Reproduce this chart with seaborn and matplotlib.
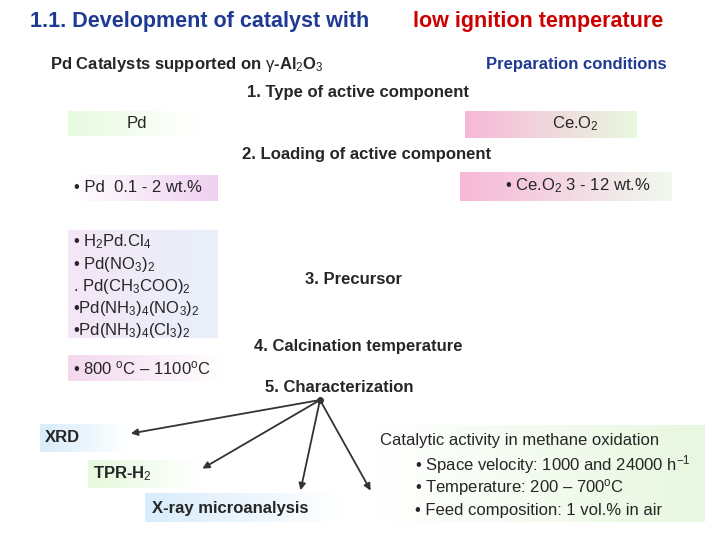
import matplotlib
matplotlib.use("Agg")
import matplotlib.pyplot as plt
import seaborn as sns
import numpy as np
from matplotlib.colors import LinearSegmentedColormap

sns.set_style("white")
plt.rcParams['font.family'] = ['Liberation Sans', 'DejaVu Sans']
plt.rcParams['mathtext.fontset'] = 'custom'
plt.rcParams['mathtext.rm'] = 'Liberation Sans'
plt.rcParams['mathtext.it'] = 'Liberation Sans'
plt.rcParams['mathtext.bf'] = 'Liberation Sans:bold'

title_parts = ["1.1. Development of catalyst with ", "low ignition temperature"]
steps = ["1. Type of active component", "2. Loading of active component", "3. Precursor",
         "4. Calcination temperature", "5. Characterization"]
precursors = ["• H$_2$Pd.Cl$_4$", "• Pd(NO$_3$)$_2$", ". Pd(CH$_3$COO)$_2$",
              "•Pd(NH$_3$)$_4$(NO$_3$)$_2$", "•Pd(NH$_3$)$_4$(Cl$_3$)$_2$"]
activity = ["Catalytic activity in methane oxidation", "• Space velocity: 1000 and 24000 h$^{-1}$",
            "• Temperature: 200 – 700$^{o}$C", "• Feed composition: 1 vol.% in air"]

FS = 12
fig = plt.figure(figsize=(7.2, 5.4), dpi=100)
ax = fig.add_axes([0, 0, 1, 1])
ax.axis("off")

def gbox(x0, y0, x1, y1, c0, c1):
    cm = LinearSegmentedColormap.from_list("g", [c0, c1])
    grad = np.linspace(0, 1, 100).reshape(1, -1)
    ax.imshow(grad, cmap=cm, extent=(x0, x1, y1, y0), aspect="auto", zorder=1)

ax.set_xlim(0, 720); ax.set_ylim(540, 0)
ax.text(30, 22, title_parts[0], fontsize=15.5, weight="bold", color="#1f3a93", va="center")
ax.text(413, 22, title_parts[1], fontsize=15.5, weight="bold", color="#cc0000", va="center")
ax.text(50, 64, "Pd Catalysts supported on $\\gamma$-Al$_2$O$_3$", fontsize=FS, weight="bold", va="center")
ax.text(486, 64, "Preparation conditions", fontsize=FS, weight="bold", color="#1f3a93", va="center")

gbox(68, 111, 200, 136, "#e8fbe0", "#ffffff")
ax.text(127, 124, "Pd", fontsize=FS, va="center")
gbox(465, 111, 637, 138, "#f7b8d8", "#e8f8e0")
ax.text(552, 124, "Ce.O$_2$", fontsize=FS, va="center")
gbox(68, 175, 218, 201, "#ffffff", "#efd0f0")
ax.text(74, 188, "• Pd  0.1 - 2 wt.%", fontsize=FS, va="center")
gbox(460, 172, 672, 201, "#f7b8d8", "#f0f8ee")
ax.text(505, 186, "• Ce.O$_2$ 3 - 12 wt.%", fontsize=FS, va="center")
gbox(68, 230, 218, 338, "#f4e6f6", "#e8f0fa")
for i, p in enumerate(precursors):
    ax.text(73, 242 + i * 22, p, fontsize=FS, va="center")
gbox(68, 355, 225, 381, "#f3d8ee", "#ffffff")
ax.text(73, 368, "• 800 $^{o}$C – 1100$^{o}$C", fontsize=FS, va="center")

ax.text(247, 92, steps[0], fontsize=FS, weight="bold", va="center")
ax.text(242, 155, steps[1], fontsize=FS, weight="bold", va="center")
ax.text(305, 279, steps[2], fontsize=FS, weight="bold", va="center")
ax.text(254, 347, steps[3], fontsize=FS, weight="bold", va="center")
ax.text(265, 387, steps[4], fontsize=FS, weight="bold", va="center")

gbox(40, 424, 128, 452, "#d8ecfb", "#ffffff")
ax.text(45, 438, "XRD", fontsize=FS, weight="bold", va="center")
gbox(88, 460, 200, 488, "#e6f9dc", "#ffffff")
ax.text(93, 474, "TPR-H$_2$", fontsize=FS, weight="bold", va="center")
gbox(145, 493, 342, 522, "#d8ecfb", "#ffffff")
ax.text(152, 508, "X-ray microanalysis", fontsize=FS, weight="bold", va="center")
gbox(370, 425, 705, 522, "#ffffff", "#e8f7e0")
ax.text(380, 440, activity[0], fontsize=FS, va="center")
for i, a in enumerate(activity[1:]):
    ax.text(415, 465 + i * 23, a, fontsize=FS, va="center")

src = (320, 400)
for tgt in [(128, 434), (200, 470), (300, 493), (372, 493)]:
    ax.annotate("", xy=tgt, xytext=src, arrowprops=dict(arrowstyle="-|>", color="#333333", lw=1.3))
ax.plot(*src, "o", color="#333333", ms=4)

fig.savefig("out.png", dpi=100)
